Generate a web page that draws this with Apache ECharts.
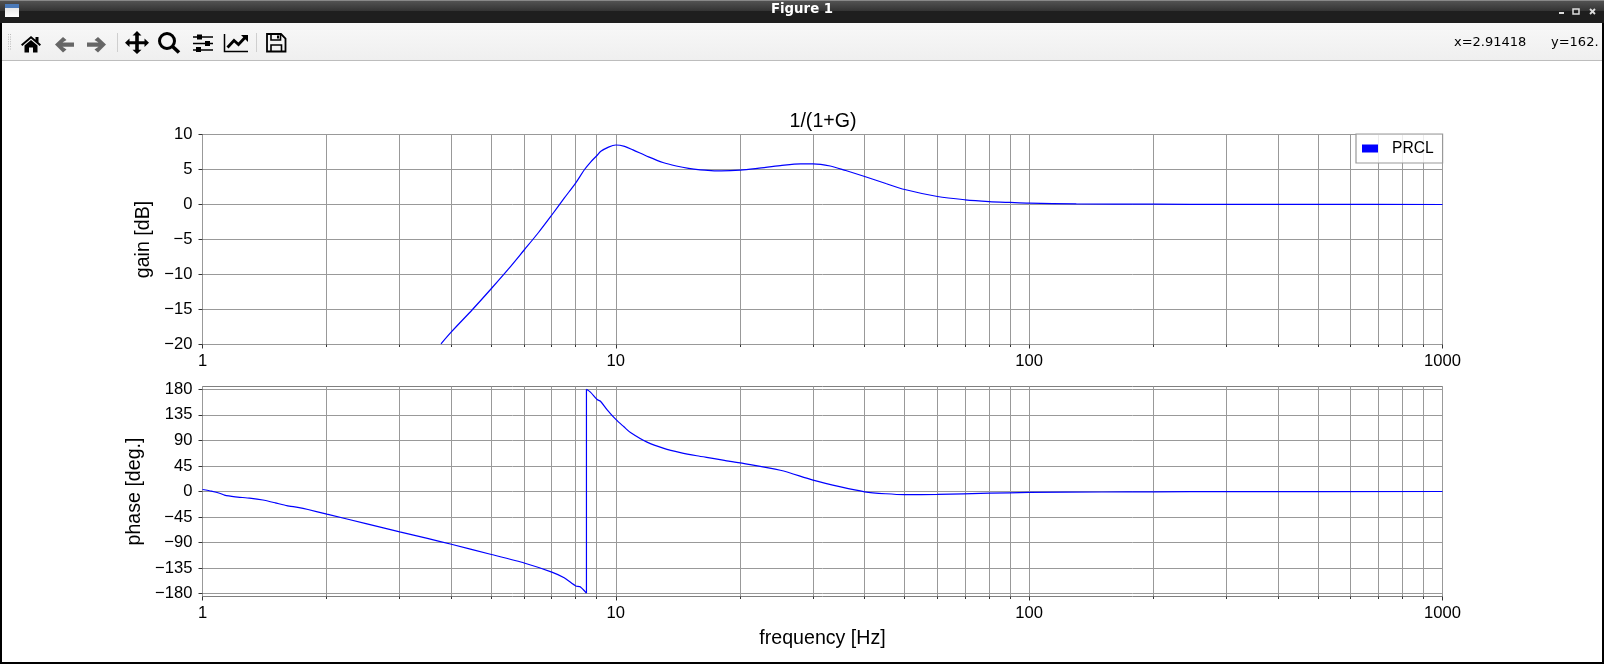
<!DOCTYPE html>
<html>
<head>
<meta charset="utf-8">
<style>html,body{margin:0;padding:0;background:#fff}#c{width:1604px;height:664px}</style>
<script src="https://cdn.jsdelivr.net/npm/echarts@6/dist/echarts.min.js"></script>
</head>
<body>
<div id="c"></div>
<script>
const seriesName = 'PRCL';
const gainFreq = [3.776,4,4.5,5,5.5,6,6.5,7,7.5,8,8.4,8.7,9,9.2,9.6,10,10.5,11,12,13,14,15,16,17,18,20,22,25,28,30,33,36,40,45,50,60,70,80,90,100,130,200,300,500,1000];
const gainDb = [-19.9,-18.2,-15.0,-12.0,-9.2,-6.5,-4.0,-1.5,0.9,3.1,5.0,6.1,7.0,7.6,8.2,8.5,8.3,7.8,6.8,6.0,5.5,5.15,4.95,4.85,4.8,4.9,5.15,5.55,5.8,5.8,5.5,4.85,4.0,3.0,2.14,1.14,0.67,0.42,0.29,0.19,0.1,0.04,0.02,0.01,0];
const phaseFreq = [1,1.05,1.1,1.13,1.2,1.3,1.4,1.5,1.6,1.7,1.8,2,2.5,3,3.5,4,5,6,7,7.5,8,8.2,8.49,8.49,8.68,9.01,9.18,9.53,10,10.46,10.85,11.9,13.07,14.33,15.7,17.3,18.9,20,25,30,35,40,45,50,60,80,100,150,200,300,1000];
const phaseDeg = [3.5,0.6,-3,-6.5,-9.4,-11.7,-15,-20,-25,-28,-31.7,-40,-57,-71,-82.6,-93,-111,-126,-142,-152,-166.5,-168,-179,180,175,162,159,144,127,114,104,87,76,68.6,63,58,53,50.4,37.5,20,8,-0.5,-4,-5.5,-5,-3,-1.7,-0.9,-0.5,-0.2,0];
const freqMajor = [1,10,100,1000];
const freqMinor = [2,3,4,5,6,7,8,9,20,30,40,50,60,70,80,90,200,300,400,500,600,700,800,900];
const gainTicks = [-20,-15,-10,-5,0,5,10];
const phaseTicks = [-180,-135,-90,-45,0,45,90,135,180];
const titleText = '1/(1+G)';
const gainLabel = 'gain [dB]';
const phaseLabel = 'phase [deg.]';
const freqLabel = 'frequency [Hz]';

const FONT = '"Liberation Sans"';
const GRID = '#999999', SPINE = '#808080', TICK = '#333333', BLUE = '#0000ff';
const LBL = 16.6;
const NAME = 19.6;
const GAIN_RANGE = [-20, 10], PHASE_RANGE = [-185, 185];
const minus = v => String(v).replace('-', '\u2212');

function xAxis(idx, name) {
  return {
    type: 'log', logBase: 10, gridIndex: idx, min: 1, max: 1000, position: 'bottom',
    name: name, nameLocation: 'middle', nameGap: 32,
    nameTextStyle: {fontFamily: FONT, fontSize: NAME, color: '#000'},
    axisLine: {show: false, onZero: false},
    axisTick: {show: true, length: 4, lineStyle: {color: TICK, width: 1}, customValues: freqMajor},
    minorTick: {show: false},
    axisLabel: {show: true, fontFamily: FONT, fontSize: LBL, color: '#000', margin: 8.5, customValues: freqMajor, formatter: v => String(Math.round(v)), hideOverlap: false, showMinLabel: true, showMaxLabel: true},
    splitLine: {show: true, lineStyle: {color: GRID, width: 1}},
    minorSplitLine: {show: false}
  };
}
function yAxis(idx, name, range, ticks, gap) {
  return {
    type: 'value', gridIndex: idx, min: range[0], max: range[1],
    name: name, nameLocation: 'middle', nameGap: gap, nameRotate: 90,
    nameTextStyle: {fontFamily: FONT, fontSize: NAME, color: '#000'},
    axisLine: {show: false, onZero: false},
    axisTick: {show: true, length: 4, lineStyle: {color: TICK, width: 1}, customValues: ticks},
    axisLabel: {fontFamily: FONT, fontSize: LBL, color: '#000', margin: 10, customValues: ticks, formatter: minus, showMinLabel: true, showMaxLabel: true},
    splitLine: {show: true, lineStyle: {color: GRID, width: 1}}
  };
}
function minorGrid(idx, range) {
  return {
    type: 'custom', xAxisIndex: idx, yAxisIndex: idx, silent: true, z: 1, clip: false,
    legendHoverLink: false, tooltip: {show: false},
    encode: {x: 0},
    data: freqMinor.map(f => [f]),
    renderItem: (params, api) => {
      const f = api.value(0);
      const lo = api.coord([f, range[0]]), hi = api.coord([f, range[1]]);
      const x = Math.round(lo[0] - 0.5) + 0.5;
      return {type: 'group', children: [
        {type: 'line', shape: {x1: x, y1: hi[1], x2: x, y2: lo[1]}, style: {stroke: GRID, lineWidth: 1}},
        {type: 'line', shape: {x1: x, y1: lo[1], x2: x, y2: lo[1] + 2.5}, style: {stroke: TICK, lineWidth: 1}}
      ]};
    }
  };
}
function zip(a, b) { return a.map((v, i) => [v, b[i]]); }
function curve(axisIdx, data, smooth) {
  return {name: seriesName, type: 'line', xAxisIndex: axisIdx, yAxisIndex: axisIdx, showSymbol: false, symbol: 'none', data, smooth, lineStyle: {color: BLUE, width: 1.2}, itemStyle: {color: BLUE}, z: 3};
}

/* window chrome: toolbar icons from straight-line outlines */
const ink = '#000', gray = '#666666';
function subpaths(d) {
  const out = []; let pts = null, x = 0, y = 0;
  const toks = d.match(/[MLHVZ]|-?[\d.]+/g);
  for (let i = 0; i < toks.length;) {
    const c = toks[i++];
    if (c === 'M') { x = +toks[i++]; y = +toks[i++]; pts = [[x, y]]; out.push(pts); }
    else if (c === 'L') { x = +toks[i++]; y = +toks[i++]; pts.push([x, y]); }
    else if (c === 'H') { x = +toks[i++]; pts.push([x, y]); }
    else if (c === 'V') { y = +toks[i++]; pts.push([x, y]); }
    else if (c === 'Z') { pts.closed = true; }
  }
  return out;
}
const S = (d, w, c) => subpaths(d).map(p => ({type: p.closed ? 'polygon' : 'polyline', shape: {points: p}, style: {fill: 'none', stroke: c || ink, lineWidth: w}}));
const F = (d, c) => subpaths(d).map(p => ({type: 'polygon', shape: {points: p}, style: {fill: c || ink}}));
const R = (x, y, w, h, fill) => ({type: 'rect', shape: {x, y, width: w, height: h}, style: {fill}});
const vg = (a, b) => new echarts.graphic.LinearGradient(0, 0, 0, 1, [{offset: 0, color: a}, {offset: 1, color: b}]);
const grip = [];
for (let y = 34; y <= 50; y += 2.4) { grip.push(R(8, y, 1, 1, '#bbbbbb'), R(10, y, 1, 1, '#bbbbbb')); }
const chrome = [
  R(0, 0, 1604, 664, '#000000'),
  R(2, 23, 1600, 639, '#ffffff'),
  R(0, 0, 1604, 11, vg('#555555', '#333333')),
  R(0, 11, 1604, 12, '#1e1e1e'),
  R(0, 0, 1604, 1, '#888888'),
  R(2, 23, 1600, 37, vg('#f8f8f8', '#efefef')),
  R(2, 60, 1600, 1, '#bdbdbd'),
  R(5, 4, 14, 13, vg('#dddddd', '#ffffff')),
  R(5, 4, 14, 4, '#4a79b8'),
  R(1559, 12, 5, 2, '#dddddd'),
  {type: 'rect', shape: {x: 1573, y: 9, width: 6, height: 5}, style: {fill: 'none', stroke: '#dddddd', lineWidth: 1.5}},
  ...S('M1590 9 L1595 14 M1595 9 L1590 14', 1.8, '#dddddd'),
  {type: 'text', x: 802, y: 10, style: {text: 'Figure 1', font: 'bold 13.3px "DejaVu Sans"', fill: '#ffffff', align: 'center', verticalAlign: 'middle'}},
  {type: 'text', x: 1454, y: 43, style: {text: 'x=2.91418', font: '13px "DejaVu Sans"', fill: '#000', align: 'left', verticalAlign: 'middle'}},
  {type: 'text', x: 1551, y: 43, style: {text: 'y=162.', font: '13px "DejaVu Sans"', fill: '#000', align: 'left', verticalAlign: 'middle'}},
  ...grip,
  R(117, 33, 1, 19, '#cfcfcf'),
  R(256, 33, 1, 19, '#cfcfcf'),
  ...F('M21 44.5 L31 36 L35.5 39.8 V37 H38.5 V42.3 L41 44.5 L39.7 46 L31 38.6 L22.3 46 Z'),
  ...F('M24.5 45.5 L31 40 L37.5 45.5 V52.5 H33 V47.5 H29 V52.5 H24.5 Z'),
  ...F('M55 44.5 L63 37 L66.5 40 L62.5 42.5 H74 V46.8 H62.5 L66.5 49.5 L63 52.5 Z', gray),
  ...F('M106 44.5 L98 37 L94.5 40 L98.5 42.5 H87 V46.8 H98.5 L94.5 49.5 L98 52.5 Z', gray),
  ...F('M137 31 L141.5 35.5 H138.8 V41.2 H144.5 V38.5 L149 42.7 L144.5 47 V44.2 H138.8 V49.8 H141.5 L137 54 L132.5 49.8 H135.2 V44.2 H129.5 V47 L125 42.7 L129.5 38.5 V41.2 H135.2 V35.5 H132.5 Z'),
  {type: 'circle', shape: {cx: 167, cy: 41, r: 7.5}, style: {fill: 'none', stroke: ink, lineWidth: 3}},
  ...S('M172 46 L179 52.5', 3.6),
  ...S('M193 37 H213 M193 43.5 H213 M193 50 H213', 1.5),
  R(197, 34.5, 5, 5, ink), R(205, 41, 5, 5, ink), R(196, 47, 5, 5, ink),
  ...S('M224.5 34 V51.5 H248', 1.5),
  ...S('M227.5 47.5 L234 40.5 L238.5 44.5 L245 37.5', 2.8),
  ...F('M241 35 H248 V42 Z'),
  ...S('M267 34 H281 L285.5 38.5 V51.5 H267 Z', 1.8),
  ...S('M271 34.5 V40 H280.5 V34.5 M271 51 V45 H281.5 V51', 1.6),
  R(277, 35.5, 2, 3, ink)
];

const phasePts = zip(phaseFreq, phaseDeg);
const jump = phaseDeg.indexOf(180);

const option = {
  animation: false,
  backgroundColor: '#fff',
  title: {
    text: titleText, left: 818, top: 107, textAlign: 'center',
    textStyle: {fontFamily: FONT, fontSize: NAME, fontWeight: 'normal', color: '#000'}
  },
  legend: {
    show: true, left: 1356, top: 134, orient: 'vertical',
    data: [{name: seriesName, icon: 'rect'}],
    itemWidth: 16, itemHeight: 8,
    padding: [6.5, 9, 6.5, 6],
    backgroundColor: 'rgba(255,255,255,0.8)', borderColor: '#999999', borderWidth: 1.2, borderRadius: 0,
    textStyle: {fontFamily: FONT, fontSize: 15.6, color: '#000', padding: [0, 0, 0, 9]}
  },
  grid: [
    {left: 202.5, top: 134.5, width: 1240, height: 210, show: true, borderColor: SPINE, borderWidth: 1, backgroundColor: 'transparent', containLabel: false},
    {left: 202.5, top: 386.5, width: 1240, height: 210, show: true, borderColor: SPINE, borderWidth: 1, backgroundColor: 'transparent', containLabel: false}
  ],
  xAxis: [xAxis(0, ''), xAxis(1, freqLabel)],
  yAxis: [yAxis(0, gainLabel, GAIN_RANGE, gainTicks, 44), yAxis(1, phaseLabel, PHASE_RANGE, phaseTicks, 50)],
  graphic: {elements: chrome.map(e => Object.assign({silent: true, z: -10, zlevel: 0}, e))},
  series: [
    minorGrid(0, GAIN_RANGE),
    minorGrid(1, PHASE_RANGE),
    curve(0, zip(gainFreq, gainDb), 0.3),
    curve(1, phasePts.slice(0, jump), 0.15),
    curve(1, phasePts.slice(jump - 1, jump + 1), false),
    curve(1, phasePts.slice(jump), 0.3)
  ]
};
const chart = echarts.init(document.getElementById('c'), null, {renderer: 'canvas', width: 1604, height: 664});
chart.setOption(option);
</script>
</body>
</html>
